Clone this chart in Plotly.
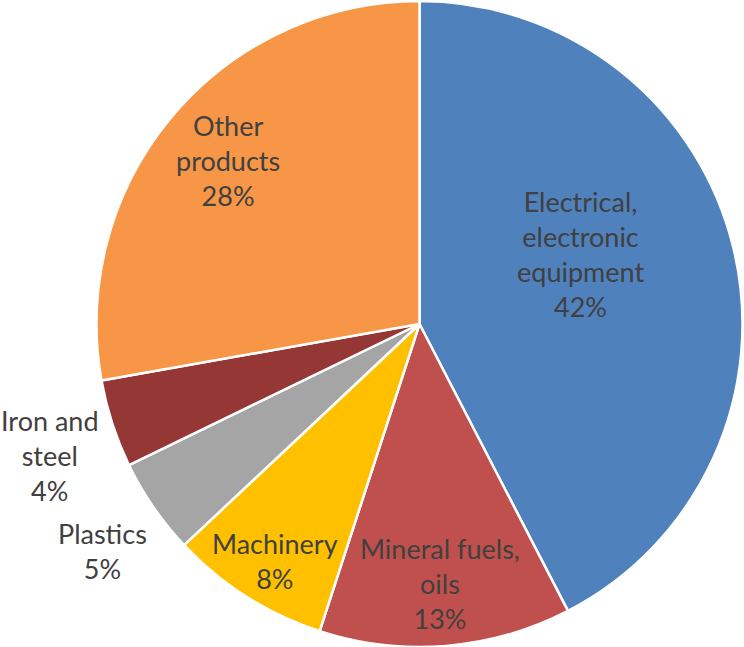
import plotly.graph_objects as go

W, H = 744, 647

categories = ["Electrical, electronic equipment", "Mineral fuels, oils", "Machinery",
              "Plastics", "Iron and steel", "Other products"]
label_lines = ["Electrical,<br>electronic<br>equipment", "Mineral fuels,<br>oils", "Machinery",
               "Plastics", "Iron and<br>steel", "Other<br>products"]
shares = [42.4, 12.6, 8.0, 4.8, 4.4, 27.8]
pct_labels = ["42%", "13%", "8%", "5%", "4%", "28%"]
colors = ["#4F81BD", "#C0504D", "#FFC000", "#A5A5A5", "#953735", "#F79646"]

# label anchor positions (pixels from top-left), styling only
label_px = [(580, 254), (440, 583), (275, 561), (103, 551), (50, 455), (228, 161)]

fig = go.Figure(go.Pie(
    labels=categories,
    values=shares,
    sort=False,
    direction="clockwise",
    rotation=0,
    marker=dict(colors=colors, line=dict(color="white", width=2.5)),
    textinfo="none",
    hoverinfo="skip",
    showlegend=False,
    domain=dict(x=[95 / W, 1.0], y=[0, 1 - 1 / H]),
))

for txt, pct, (px, py) in zip(label_lines, pct_labels, label_px):
    fig.add_annotation(
        x=px / W, y=1 - py / H, xref="paper", yref="paper",
        text=f"{txt}<br>{pct}", showarrow=False,
        xanchor="center", yanchor="middle", align="center",
        font=dict(family="Lato, Carlito, Open Sans, sans-serif", size=27, color="#404040"),
    )

fig.update_layout(
    width=W, height=H,
    margin=dict(l=0, r=0, t=0, b=0),
    paper_bgcolor="white",
    plot_bgcolor="white",
)

fig.write_html("out.html")
